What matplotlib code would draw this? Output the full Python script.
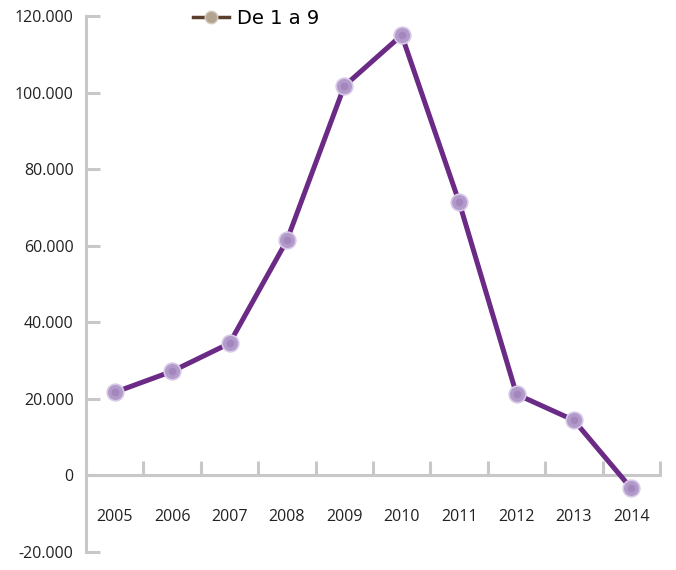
import numpy as np
import matplotlib
matplotlib.use("Agg")
import matplotlib.pyplot as plt
from matplotlib.ticker import FuncFormatter, FixedLocator
from matplotlib.lines import Line2D

# Data
years = ['2005', '2006', '2007', '2008', '2009', '2010', '2011', '2012', '2013', '2014']
values = [21700, 27200, 34500, 61400, 101700, 115000, 71400, 21200, 14400, -3400]
series_name = 'De 1 a 9'

axis_col = '#c8c8c8'
line_col = '#6b2a85'

fig = plt.figure(figsize=(6.76, 5.70), dpi=100)
ax = fig.add_axes([86/676, 1 - 552/570, (660 - 86)/676, (552 - 16)/570])

x = np.arange(len(years))
ax.plot(x, values, color=line_col, lw=3.6, zorder=3,
        marker='o', markersize=12, markerfacecolor='#b29acb',
        markeredgecolor='#d8c9e6', markeredgewidth=1.2)
# darker band in the middle of each marker
ax.plot(x, values, ls='none', marker='o', markersize=5.5, markerfacecolor='#9879b3',
        markeredgecolor='none', zorder=4, alpha=0.6)

ax.set_xlim(-0.5, len(years) - 0.5)
ax.set_ylim(-20000, 120000)

# spines
for s in ['top', 'right']:
    ax.spines[s].set_visible(False)
ax.spines['left'].set_color(axis_col)
ax.spines['left'].set_linewidth(2.2)
ax.spines['bottom'].set_color(axis_col)
ax.spines['bottom'].set_linewidth(2.2)
ax.spines['bottom'].set_position(('data', 0))

# y ticks
ax.set_yticks(np.arange(-20000, 120001, 20000))
ax.yaxis.set_major_formatter(FuncFormatter(
    lambda v, p: '0' if v == 0 else '{:,.0f}'.format(v).replace(',', '.')))
ax.tick_params(axis='y', direction='in', length=10, width=2.2, color=axis_col,
               labelsize=11.5, labelcolor='#222222', pad=9)

# x ticks: boundaries as ticks, labels centered
ax.xaxis.set_major_locator(FixedLocator(x))
ax.set_xticklabels(years)
ax.xaxis.set_minor_locator(FixedLocator(np.arange(-0.5, len(years), 1.0)))
ax.tick_params(axis='x', which='major', length=0, labelsize=11.5,
               labelcolor='#222222', pad=24)
ax.tick_params(axis='x', which='minor', direction='in', length=10, width=2.2,
               color=axis_col)

for lab in ax.get_xticklabels() + ax.get_yticklabels():
    lab.set_fontfamily('Open Sans')

# legend
h = Line2D([], [], color='#5b3f2e', lw=2.5, marker='o', markersize=9,
           markerfacecolor='#b3a491', markeredgecolor='#d6ccbf')
leg = fig.legend([h], [series_name], loc='center left',
                 bbox_to_anchor=(175/676, 1 - 18/570), frameon=False,
                 handlelength=1.9, handletextpad=0.4,
                 prop={'family': 'DejaVu Sans', 'size': 14})

fig.savefig('out.png', dpi=100)
